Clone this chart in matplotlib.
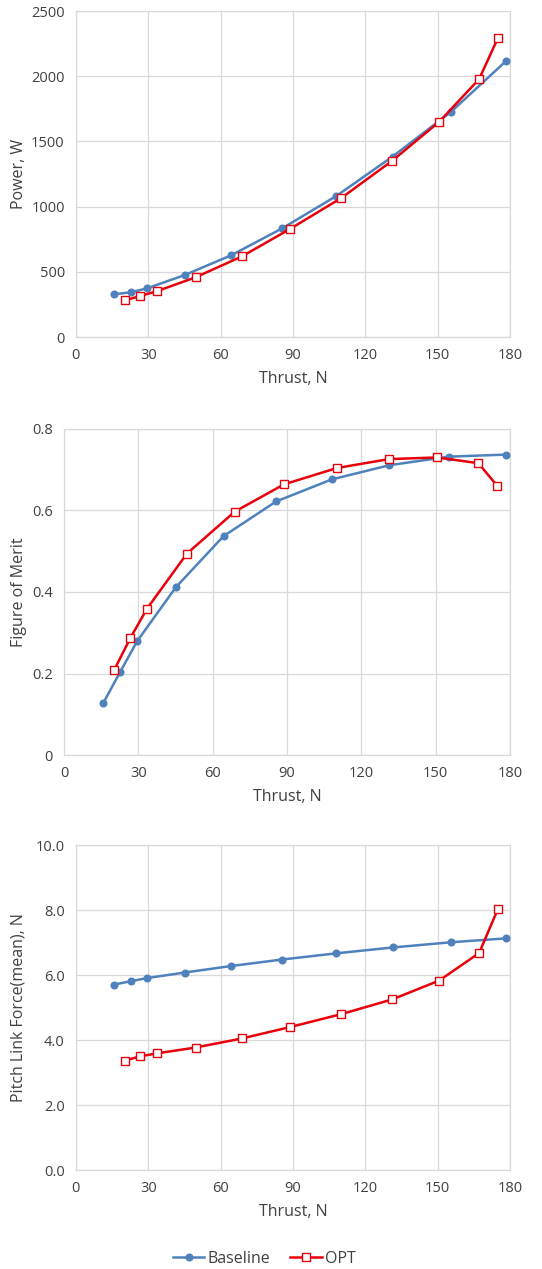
import matplotlib
matplotlib.use("Agg")
import matplotlib.pyplot as plt
from matplotlib.ticker import FuncFormatter

plt.rcParams['font.family'] = ['Open Sans', 'DejaVu Sans']

# Data
base_thrust = [15.9, 22.7, 29.6, 45.2, 64.4, 85.6, 108.0, 131.3, 155.4, 178.2]
opt_thrust = [20.3, 26.7, 33.5, 49.6, 68.9, 88.8, 110.1, 131.1, 150.6, 167.2, 174.9]

base_power = [328, 343, 374, 476, 627, 834, 1082, 1384, 1725, 2114]
opt_power = [281, 315, 351, 458, 619, 829, 1067, 1351, 1650, 1978, 2290]

base_fom = [0.128, 0.204, 0.280, 0.412, 0.537, 0.622, 0.676, 0.711, 0.732, 0.737]
opt_fom = [0.209, 0.286, 0.359, 0.494, 0.597, 0.664, 0.704, 0.726, 0.730, 0.716, 0.660]

base_plf = [5.71, 5.81, 5.91, 6.08, 6.28, 6.48, 6.67, 6.85, 7.01, 7.13]
opt_plf = [3.37, 3.50, 3.59, 3.77, 4.05, 4.40, 4.80, 5.25, 5.83, 6.68, 8.02]

x_ticks = [0, 30, 60, 90, 120, 150, 180]

BLUE = '#4F81BD'
RED = '#E8000B'
GRID = '#D9D9D9'
TXT = '#404040'

fig = plt.figure(figsize=(5.42, 12.69), dpi=100)

specs = [
    ([0.140, 0.7344, 0.801, 0.2569], base_power, opt_power, 'Power, W', (0, 2500), [0, 500, 1000, 1500, 2000, 2500], lambda v, p: f'{v:.0f}'),
    ([0.118, 0.405, 0.823, 0.257], base_fom, opt_fom, 'Figure of Merit', (0, 0.8), [0, 0.2, 0.4, 0.6, 0.8], lambda v, p: '0' if v == 0 else f'{v:.1f}'),
    ([0.140, 0.078, 0.801, 0.256], base_plf, opt_plf, 'Pitch Link Force(mean), N', (0, 10), [0, 2, 4, 6, 8, 10], lambda v, p: f'{v:.1f}'),
]

for rect, b, o, ylabel, ylim, yt, fmt in specs:
    ax = fig.add_axes(rect)
    ax.plot(base_thrust, b, color=BLUE, lw=1.8, marker='o', ms=4.8, mfc=BLUE, mec=BLUE, label='Baseline', zorder=3)
    ax.plot(opt_thrust, o, color=RED, lw=1.8, marker='s', ms=5.5, mfc='white', mec=RED, mew=1.0, label='OPT', zorder=4)
    ax.set_xlim(0, 180)
    ax.set_ylim(*ylim)
    ax.set_xticks(x_ticks)
    ax.set_yticks(yt)
    ax.yaxis.set_major_formatter(FuncFormatter(fmt))
    ax.grid(True, color=GRID, lw=0.9)
    ax.set_axisbelow(True)
    for s in ax.spines.values():
        s.set_color(GRID)
        s.set_linewidth(0.9)
    ax.tick_params(length=0, labelsize=10.5, colors=TXT, pad=8)
    ax.set_xlabel('Thrust, N', fontsize=11.5, color=TXT, labelpad=6)
    ax.set_ylabel(ylabel, fontsize=11.5, color=TXT)
    ax.yaxis.set_label_coords((27 - rect[0] * 542) / (rect[2] * 542), 0.5)

handles, labels = ax.get_legend_handles_labels()
fig.legend(handles, labels, loc='center', bbox_to_anchor=(264 / 542, 1 - 1259 / 1269), ncol=2,
           frameon=False, fontsize=11.5, handlelength=2.0, handletextpad=0.2, columnspacing=1.2,
           labelcolor=TXT)

fig.savefig('out.png', dpi=100, facecolor='white')
